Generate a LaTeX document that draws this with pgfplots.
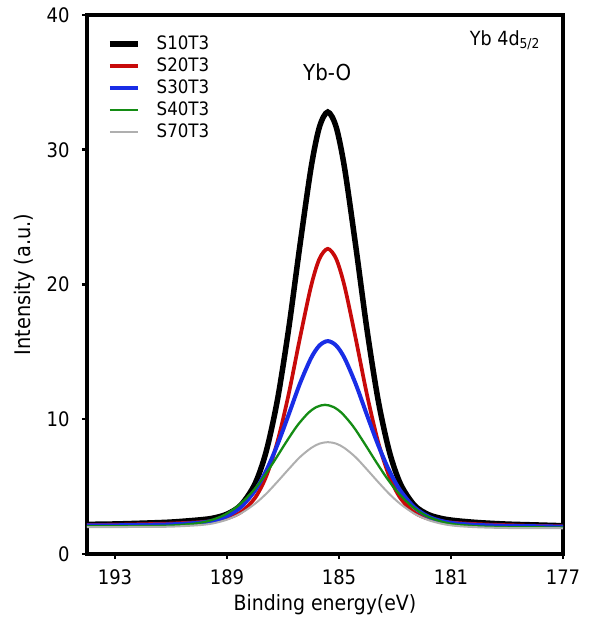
\documentclass[border=0pt]{standalone}
\usepackage{fontspec}
\setmainfont{DejaVu Sans Condensed}
\usepackage{pgfplots}
\pgfplotsset{compat=1.18}
\definecolor{cred}{RGB}{200,10,10}
\definecolor{cblue}{RGB}{25,45,230}
\definecolor{cgreen}{RGB}{20,140,20}
\definecolor{cgray}{RGB}{175,175,175}
\begin{document}
\begin{tikzpicture}
\useasboundingbox (-87pt,-66pt) rectangle (507pt,554pt);
\begin{axis}[
  at={(0pt,0pt)}, anchor=south west,
  scale only axis, width=476pt, height=539pt,
  x dir=reverse, xmin=177, xmax=194, ymin=0, ymax=40,
  xtick={193,189,185,181,177}, ytick={0,10,20,30,40},
  tick pos=left, tick align=outside,
  major tick length=5pt,
  major tick style={line width=2.5pt, black},
  axis line style={line width=3.2pt},
  /pgf/number format/assume math mode=true,
  ticklabel style={font=\fontsize{20}{20}\selectfont},
  yticklabel style={xshift=-9pt},
  xticklabel style={yshift=-7pt},
  xlabel={Binding energy(eV)}, ylabel={Intensity (a.u.)},
  xlabel style={font=\fontsize{21}{21}\selectfont},
  ylabel style={font=\fontsize{21.5}{21.5}\selectfont},
  xlabel shift=3pt, ylabel shift=5pt,
  legend image code/.code={\draw[#1] (0pt,0pt) -- (28pt,0pt);},
  legend cell align=left,
  legend style={at={(axis description cs:0.042,0.963)}, anchor=north west,
    draw=none, fill=none, inner sep=0pt, column sep=16pt, row sep=4pt,
    font=\fontsize{18.5}{18.5}\selectfont,
    nodes={inner sep=0pt, text height=14pt, text depth=4pt}},
]
\addplot[black, line width=5.5pt, smooth] coordinates {
(194,2.20) (193,2.23) (192,2.29) (191,2.37) (190,2.53) (189.5,2.66) (189,2.96) (188.5,3.64) (188,5.21) (187.6,7.61) (187.2,11.42) (186.8,16.67) (186.4,22.83) (186.0,28.63) (185.7,31.68) (185.4,32.80) (185.1,31.68) (184.8,28.63) (184.4,22.82) (184.0,16.65) (183.6,11.40) (183.2,7.59) (182.8,5.18) (182.3,3.60) (181.8,2.92) (181.3,2.62) (180.8,2.47) (180,2.33) (179,2.22) (178,2.16) (177,2.10)};
\addlegendentry{S10T3}
\addplot[cred, line width=3.7pt, smooth] coordinates {
(194,2.15) (193,2.17) (192,2.21) (191,2.26) (190,2.36) (189.5,2.45) (189,2.65) (188.5,3.11) (188,4.16) (187.6,5.76) (187.2,8.32) (186.8,11.84) (186.4,15.97) (186.0,19.86) (185.7,21.90) (185.4,22.65) (185.1,21.90) (184.8,19.86) (184.4,15.96) (184.0,11.82) (183.6,8.30) (183.2,5.74) (182.8,4.13) (182.3,3.07) (181.8,2.61) (181.3,2.41) (180.8,2.30) (180,2.21) (179,2.14) (178,2.09) (177,2.05)};
\addlegendentry{S20T3}
\addplot[cblue, line width=4pt, smooth] coordinates {
(194,2.12) (193,2.13) (192,2.16) (191,2.20) (190,2.32) (189.5,2.47) (189,2.81) (188.5,3.49) (188,4.71) (187.6,6.18) (187.2,8.10) (186.8,10.33) (186.4,12.62) (186.0,14.53) (185.7,15.47) (185.4,15.80) (185.1,15.47) (184.8,14.53) (184.4,12.60) (184.0,10.31) (183.6,8.08) (183.2,6.16) (182.8,4.68) (182.3,3.45) (181.8,2.77) (181.3,2.43) (180.8,2.26) (180,2.15) (179,2.09) (178,2.06) (177,2.03)};
\addlegendentry{S30T3}
\addplot[cgreen, line width=2.3pt, smooth] coordinates {
(194.0,2.06) (193.0,2.06) (192.0,2.07) (191.0,2.11) (190.1,2.27) (189.6,2.49) (189.1,2.89) (188.6,3.58) (188.1,4.61) (187.7,5.68) (187.3,6.94) (186.9,8.26) (186.5,9.50) (186.1,10.46) (185.8,10.91) (185.5,11.07) (185.2,10.91) (184.9,10.46) (184.5,9.49) (184.1,8.24) (183.7,6.92) (183.3,5.66) (182.9,4.58) (182.4,3.54) (181.9,2.85) (181.4,2.44) (180.9,2.21) (180.0,2.05) (179.0,1.99) (178.0,1.98) (177.0,1.96)};
\addlegendentry{S40T3}
\addplot[cgray, line width=2pt, smooth] coordinates {
(194,2.00) (193,2.00) (192,2.01) (191,2.03) (190,2.14) (189.5,2.27) (189,2.55) (188.5,3.02) (188,3.73) (187.6,4.47) (187.2,5.36) (186.8,6.29) (186.4,7.18) (186.0,7.86) (185.7,8.19) (185.4,8.30) (185.1,8.19) (184.8,7.86) (184.4,7.17) (184.0,6.27) (183.6,5.34) (183.2,4.45) (182.8,3.70) (182.3,2.98) (181.8,2.51) (181.3,2.23) (180.8,2.08) (180,1.98) (179,1.93) (178,1.92) (177,1.91)};
\addlegendentry{S70T3}
\node[anchor=base, inner sep=0pt, font=\fontsize{22}{22}\selectfont] at (axis cs:185.42,35.16) {Yb-O};
\node[anchor=base west, inner sep=0pt, font=\fontsize{19.5}{19.5}\selectfont] at (axis cs:180.33,37.76) {Yb 4d\textsubscript{5/2}};
\end{axis}
\end{tikzpicture}
\end{document}
